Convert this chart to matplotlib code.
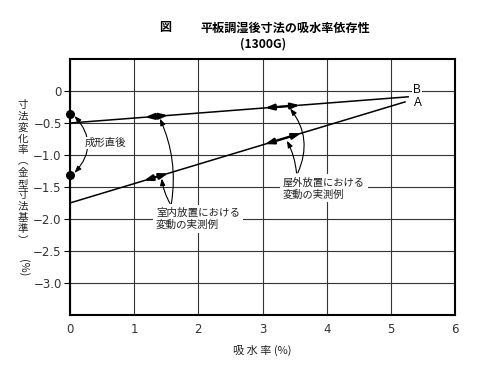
import numpy as np
import matplotlib
matplotlib.use("Agg")
import matplotlib.pyplot as plt
from matplotlib.patches import FancyArrowPatch

plt.rcParams['font.family'] = ['Noto Sans CJK JP', 'DejaVu Sans']

# data
line_b_x = [0.0, 5.27]
line_b_y = [-0.50, -0.09]
line_a_x = [0.0, 5.22]
line_a_y = [-1.75, -0.17]
dots_x = [0.0, 0.0]
dots_y = [-0.36, -1.31]
# spans of measured variation (x ranges) on each line
indoor_b = [1.17, 1.53]
outdoor_b = [3.04, 3.58]
indoor_a = [1.15, 1.53]
outdoor_a = [3.04, 3.60]

x_ticks = [0, 1, 2, 3, 4, 5, 6]
y_ticks = [0, -0.5, -1.0, -1.5, -2.0, -2.5, -3.0]
y_ticklabels = ['0', '\u22120.5', '\u22121.0', '\u22121.5', '\u22122.0', '\u22122.5', '\u22123.0']


def on_line(xs, ys, x):
    return np.interp(x, xs, ys)


fig = plt.figure(figsize=(5.0, 3.67), dpi=100)
ax = fig.add_axes([0.14, 0.142, 0.77, 0.697])
ax.set_xlim(0, 6)
ax.set_ylim(-3.5, 0.5)
ax.set_xticks(x_ticks)
ax.set_yticks(y_ticks)
ax.set_yticklabels(y_ticklabels)
ax.grid(True, color='#333333', lw=0.8)
ax.set_axisbelow(True)
for s in ax.spines.values():
    s.set_linewidth(1.5)
ax.tick_params(axis='x', length=0, pad=6, labelsize=8.5)
ax.tick_params(axis='y', length=4, width=0.8, pad=2, labelsize=8.5)
for lab in ax.get_xticklabels() + ax.get_yticklabels():
    lab.set_fontfamily(['DejaVu Sans'])
    lab.set_color('#333333')

# main lines
ax.plot(line_b_x, line_b_y, color='black', lw=1.1, zorder=3)
ax.plot(line_a_x, line_a_y, color='black', lw=1.1, zorder=3)
ax.scatter(dots_x, dots_y, s=30, color='black', zorder=5, clip_on=False)

ax.text(5.41, on_line(line_b_x, line_b_y, 5.27) + 0.10, 'B', fontsize=8.5, ha='center', va='center',
        family=['Liberation Sans', 'DejaVu Sans'], bbox=dict(fc='white', ec='none', pad=0.5), zorder=4)
ax.text(5.42, on_line(line_a_x, line_a_y, 5.22) - 0.02, 'A', fontsize=8.5, ha='center', va='center',
        family=['Liberation Sans', 'DejaVu Sans'], zorder=4)

# thick double arrows showing variation
for xs, ys, span in [(line_b_x, line_b_y, indoor_b), (line_b_x, line_b_y, outdoor_b),
                     (line_a_x, line_a_y, indoor_a), (line_a_x, line_a_y, outdoor_a)]:
    p0 = (span[0], on_line(xs, ys, span[0]))
    p1 = (span[1], on_line(xs, ys, span[1]))
    ax.add_patch(FancyArrowPatch(p0, p1, arrowstyle='<|-|>,head_length=5,head_width=1.7',
                                 lw=1.7, color='black', shrinkA=0, shrinkB=0, zorder=6))


def curve(p_from, p_to, rad):
    ax.add_patch(FancyArrowPatch(p_from, p_to, arrowstyle='-|>,head_length=4,head_width=1.5',
                                 connectionstyle='arc3,rad=%s' % rad, lw=0.8, color='black',
                                 shrinkA=0, shrinkB=0, zorder=4))


# "just after molding" arc between the two dots
ax.add_patch(FancyArrowPatch((0.07, dots_y[0] - 0.03), (0.07, dots_y[1] + 0.03),
                             arrowstyle='<|-|>,head_length=4,head_width=1.5',
                             connectionstyle='arc3,rad=-0.45', lw=0.8, color='black',
                             shrinkA=0, shrinkB=0, zorder=4))
ax.text(0.55, -0.81, '成形直後', fontsize=7.5, ha='center', va='center', color='#222222',
        bbox=dict(fc='white', ec='none', pad=0.5), zorder=5)

# indoor annotation
ax.text(1.34, -2.0, '室内放置における\n変動の実測例', fontsize=7.6, ha='left', va='center',
        linespacing=1.25, color='#222222', bbox=dict(fc='white', ec='none', pad=2), zorder=5)
curve((1.58, -1.76), (1.40, on_line(line_b_x, line_b_y, 1.40) - 0.04), 0.15)
curve((1.56, -1.76), (1.43, on_line(line_a_x, line_a_y, 1.43) - 0.05), -0.1)

# outdoor annotation
ax.text(3.32, -1.52, '屋外放置における\n変動の実測例', fontsize=7.4, ha='left', va='center',
        linespacing=1.25, color='#222222', bbox=dict(fc='white', ec='none', pad=2), zorder=5)
curve((3.55, -1.28), (3.43, on_line(line_b_x, line_b_y, 3.43) - 0.04), 0.3)
curve((3.53, -1.28), (3.38, on_line(line_a_x, line_a_y, 3.38) - 0.05), 0.1)

ax.set_xlabel('吸 水 率 (%)', fontsize=8, color='#222222', labelpad=6)

# vertical y label, one character per step
ylab_chars = ['寸', '法', '変', '化', '率', '︵', '金', '型', '寸', '法', '基', '準', '︶']
y0 = 105
for i, ch in enumerate(ylab_chars):
    fig.text(23 / 500, 1 - (y0 + i * 11.3) / 367, ch, fontsize=7.6, ha='center', va='center',
             color='#222222')
fig.text(23 / 500, 1 - 268 / 367, '(%)', fontsize=7.8, ha='center', va='center', rotation=-90,
         color='#222222')

fig.text(165 / 500, 1 - 28 / 367, '図', fontsize=8.7, fontweight='bold', ha='center', va='center')
fig.text(285 / 500, 1 - 28 / 367, '平板調湿後寸法の吸水率依存性', fontsize=8.7, fontweight='bold',
         ha='center', va='center')
fig.text(263 / 500, 1 - 44 / 367, '(1300G)', fontsize=8.7, fontweight='bold', ha='center', va='center')

fig.savefig('out.png', dpi=100)
